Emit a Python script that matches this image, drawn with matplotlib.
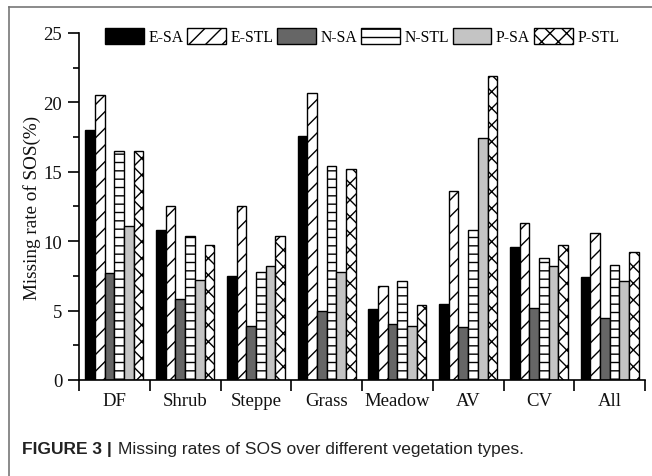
import numpy as np
import matplotlib
matplotlib.use('Agg')
import matplotlib.pyplot as plt
from matplotlib.lines import Line2D

plt.rcParams['font.family'] = ['Liberation Serif', 'DejaVu Serif']
plt.rcParams['hatch.linewidth'] = 1.0

# Data
categories = ['DF', 'Shrub', 'Steppe', 'Grass', 'Meadow', 'AV', 'CV', 'All']
series_names = ['E-SA', 'E-STL', 'N-SA', 'N-STL', 'P-SA', 'P-STL']
e_sa = [18.0, 10.8, 7.5, 17.6, 5.1, 5.5, 9.6, 7.4]
e_stl = [20.5, 12.5, 12.5, 20.7, 6.8, 13.6, 11.3, 10.6]
n_sa = [7.7, 5.8, 3.9, 5.0, 4.0, 3.8, 5.2, 4.5]
n_stl = [16.5, 10.4, 7.8, 15.4, 7.1, 10.8, 8.8, 8.3]
p_sa = [11.1, 7.2, 8.2, 7.8, 3.9, 17.4, 8.2, 7.1]
p_stl = [16.5, 9.7, 10.4, 15.2, 5.4, 21.9, 9.7, 9.2]
values = [e_sa, e_stl, n_sa, n_stl, p_sa, p_stl]

colors = ['black', 'white', '#666666', 'white', '#c4c4c4', 'white']
hatches = [None, '//', None, '--', None, 'xx']

fig = plt.figure(figsize=(6.52, 4.77), dpi=100)
ax = fig.add_axes([0.1212, 0.2013, 0.8681, 0.7275])

x = np.arange(len(categories))
bw = 0.137
for i, (name, vals) in enumerate(zip(series_names, values)):
    ax.bar(x + (i - 2.5) * bw, vals, width=bw, color=colors[i], hatch=hatches[i],
           edgecolor='black', linewidth=1.0, label=name)

ax.set_xlim(-0.5, len(categories) - 0.5)
ax.set_ylim(0, 25)
ax.set_yticks([0, 5, 10, 15, 20, 25])
ax.set_yticks(np.arange(2.5, 25, 5), minor=True)
ax.set_xticks(x)
ax.set_xticklabels(categories)
ax.set_xticks(np.arange(-0.5, len(categories)), minor=True)
ax.tick_params(axis='x', which='major', length=0, pad=9, labelsize=13.5, labelcolor='#111111')
ax.tick_params(axis='x', which='minor', length=8, width=1.2, direction='out')
ax.tick_params(axis='y', which='major', length=8, width=1.2, labelsize=13.5, pad=4,
               labelcolor='#111111')
ax.tick_params(axis='y', which='minor', length=4, width=1.2)
ax.spines['top'].set_visible(False)
ax.spines['right'].set_visible(False)
ax.spines['left'].set_linewidth(1.2)
ax.spines['bottom'].set_linewidth(1.2)
ax.set_ylabel('Missing rate of SOS(%)', fontsize=13.8, color='#111111')
ax.yaxis.set_label_coords(-0.068, 0.5)

ax.legend(loc='center left', bbox_to_anchor=(0.046, 0.99), ncol=6, frameon=False,
          fontsize=11.3, handlelength=2.45, handleheight=1.25, handletextpad=0.3,
          columnspacing=0.25, borderpad=0, borderaxespad=0)

# outer frame (top and left edges)
fig.add_artist(Line2D([9 / 652, 1], [1 - 8 / 477, 1 - 8 / 477], color='#777777', lw=1.2))
fig.add_artist(Line2D([9 / 652, 9 / 652], [0, 1 - 8 / 477], color='#777777', lw=1.2))

# caption: bold label followed by regular text
t1 = fig.text(22 / 652, 1 - 450 / 477, 'FIGURE 3 |', family='Liberation Sans',
              fontweight='bold', fontsize=12.5, va='center', color='#222222')
fig.canvas.draw()
bb = t1.get_window_extent()
fig.text((bb.x1 + 6) / 652, 1 - 450 / 477, 'Missing rates of SOS over different vegetation types.',
         family='Liberation Sans', fontsize=12.5, va='center', color='#222222')

fig.savefig('out.png', dpi=100)
